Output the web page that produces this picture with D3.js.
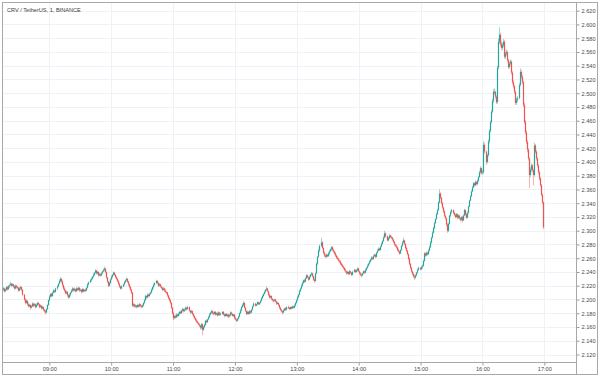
<!DOCTYPE html>
<html><head><meta charset="utf-8">
<script src="https://cdn.jsdelivr.net/npm/d3@7/dist/d3.min.js"></script>
<style>html,body{margin:0;padding:0;background:#fff;}svg{display:block;}</style>
</head><body>
<svg id="chart" width="600" height="377"></svg>
<script>
const title = "CRV / TetherUS, 1, BINANCE";
const day = "2021-02-10";
const startTime = "08:15";
// 1-minute candles; each candle opens at the previous close
const firstOpen = 2.214;
const close = [
2.216,2.212,2.214,2.218,2.215,2.219,2.221,2.223,2.220,2.222,
2.219,2.216,2.220,2.218,2.217,2.213,2.216,2.218,2.214,2.207,
2.200,2.195,2.198,2.193,2.190,2.192,2.188,2.190,2.194,2.191,
2.193,2.189,2.192,2.195,2.193,2.189,2.191,2.187,2.189,2.185,
2.183,2.181,2.186,2.192,2.199,2.204,2.208,2.205,2.210,2.213,
2.211,2.216,2.219,2.223,2.227,2.230,2.226,2.221,2.216,2.213,
2.209,2.211,2.206,2.203,2.207,2.210,2.213,2.216,2.213,2.215,
2.212,2.216,2.214,2.217,2.213,2.214,2.211,2.215,2.212,2.214,
2.213,2.217,2.222,2.225,2.228,2.230,2.233,2.236,2.239,2.242,
2.238,2.240,2.235,2.237,2.235,2.238,2.241,2.243,2.245,2.240,
2.232,2.226,2.220,2.224,2.229,2.233,2.236,2.239,2.236,2.233,
2.230,2.227,2.223,2.219,2.216,2.219,2.222,2.225,2.228,2.230,
2.226,2.222,2.218,2.214,2.210,2.191,2.193,2.190,2.191,2.189,
2.192,2.190,2.193,2.191,2.189,2.191,2.195,2.199,2.205,2.203,
2.207,2.205,2.208,2.210,2.214,2.218,2.221,2.224,2.227,2.224,
2.220,2.222,2.219,2.217,2.214,2.216,2.213,2.211,2.210,2.206,
2.202,2.199,2.195,2.188,2.180,2.173,2.176,2.174,2.178,2.176,
2.179,2.182,2.180,2.184,2.186,2.183,2.185,2.188,2.186,2.189,
2.184,2.181,2.183,2.179,2.176,2.173,2.170,2.168,2.166,2.164,
2.162,2.159,2.164,2.156,2.160,2.163,2.169,2.167,2.171,2.174,
2.178,2.181,2.183,2.180,2.179,2.182,2.178,2.180,2.177,2.181,
2.178,2.179,2.182,2.178,2.176,2.179,2.176,2.178,2.175,2.177,
2.181,2.179,2.176,2.178,2.173,2.171,2.169,2.172,2.175,2.180,
2.184,2.189,2.192,2.195,2.188,2.183,2.179,2.182,2.179,2.183,
2.181,2.185,2.190,2.194,2.191,2.193,2.196,2.193,2.195,2.198,
2.202,2.205,2.208,2.211,2.214,2.216,2.212,2.207,2.203,2.205,
2.201,2.199,2.198,2.200,2.197,2.194,2.195,2.192,2.188,2.185,
2.183,2.181,2.184,2.187,2.185,2.189,2.188,2.186,2.189,2.187,
2.190,2.188,2.191,2.195,2.199,2.203,2.207,2.212,2.216,2.220,
2.224,2.228,2.226,2.231,2.235,2.232,2.229,2.233,2.236,2.238,
2.234,2.229,2.227,2.238,2.252,2.262,2.271,2.278,2.283,2.275,
2.268,2.264,2.262,2.265,2.263,2.267,2.270,2.273,2.276,2.272,
2.270,2.267,2.264,2.261,2.259,2.257,2.255,2.252,2.250,2.248,
2.246,2.243,2.241,2.238,2.240,2.237,2.241,2.239,2.236,2.240,
2.243,2.240,2.242,2.245,2.241,2.238,2.236,2.235,2.238,2.241,
2.239,2.243,2.246,2.249,2.252,2.255,2.258,2.261,2.259,2.263,
2.265,2.262,2.268,2.271,2.274,2.272,2.277,2.281,2.285,2.290,
2.296,2.292,2.286,2.289,2.293,2.291,2.290,2.287,2.284,2.280,
2.278,2.276,2.272,2.270,2.267,2.272,2.278,2.283,2.286,2.281,
2.275,2.271,2.266,2.259,2.252,2.246,2.241,2.237,2.234,2.232,
2.235,2.239,2.243,2.246,2.244,2.247,2.249,2.256,2.267,2.264,
2.268,2.266,2.271,2.276,2.283,2.290,2.297,2.304,2.311,2.317,
2.324,2.330,2.341,2.354,2.348,2.340,2.334,2.328,2.322,2.318,
2.309,2.300,2.310,2.322,2.327,2.330,2.326,2.323,2.320,2.324,
2.319,2.322,2.318,2.316,2.320,2.315,2.322,2.330,2.324,2.319,
2.326,2.335,2.344,2.350,2.357,2.363,2.369,2.366,2.371,2.368,
2.373,2.378,2.385,2.391,2.384,2.385,2.425,2.415,2.400,2.410,
2.430,2.445,2.458,2.473,2.489,2.502,2.502,2.495,2.487,2.537,
2.575,2.585,2.572,2.566,2.570,2.575,2.553,2.558,2.560,2.548,
2.538,2.543,2.546,2.530,2.516,2.510,2.502,2.486,2.490,2.493,
2.512,2.531,2.524,2.516,2.483,2.458,2.443,2.429,2.418,2.405,
2.381,2.389,2.395,2.388,2.381,2.424,2.415,2.405,2.395,2.385,
2.376,2.366,2.352,2.341,2.305];
const high = [
2.218,2.217,2.216,2.219,2.220,2.221,2.222,2.226,2.224,2.224,
2.223,2.221,2.222,2.221,2.220,2.218,2.218,2.220,2.219,2.215,
2.208,2.202,2.200,2.199,2.195,2.194,2.193,2.192,2.196,2.195,
2.195,2.194,2.194,2.197,2.196,2.194,2.193,2.192,2.191,2.190,
2.186,2.185,2.187,2.193,2.200,2.206,2.209,2.210,2.211,2.215,
2.214,2.217,2.221,2.224,2.229,2.233,2.231,2.228,2.222,2.218,
2.214,2.213,2.212,2.208,2.209,2.211,2.215,2.218,2.217,2.217,
2.216,2.218,2.217,2.219,2.218,2.216,2.215,2.217,2.216,2.215,
2.216,2.218,2.224,2.226,2.230,2.232,2.234,2.238,2.240,2.244,
2.243,2.242,2.241,2.239,2.238,2.240,2.242,2.245,2.248,2.246,
2.241,2.233,2.227,2.226,2.230,2.235,2.237,2.241,2.240,2.237,
2.234,2.231,2.228,2.224,2.220,2.221,2.223,2.227,2.229,2.232,
2.231,2.227,2.223,2.219,2.215,2.211,2.195,2.194,2.193,2.192,
2.194,2.193,2.195,2.194,2.192,2.193,2.196,2.201,2.207,2.206,
2.209,2.208,2.210,2.211,2.216,2.219,2.223,2.225,2.229,2.228,
2.225,2.224,2.223,2.220,2.218,2.218,2.217,2.215,2.212,2.211,
2.207,2.204,2.200,2.196,2.189,2.182,2.177,2.178,2.180,2.179,
2.181,2.183,2.184,2.185,2.188,2.187,2.187,2.190,2.189,2.191,
2.190,2.185,2.185,2.184,2.180,2.177,2.174,2.172,2.169,2.167,
2.165,2.163,2.166,2.165,2.162,2.165,2.170,2.171,2.172,2.176,
2.180,2.182,2.185,2.184,2.182,2.183,2.183,2.181,2.182,2.183,
2.182,2.181,2.183,2.183,2.180,2.180,2.180,2.179,2.179,2.179,
2.183,2.182,2.180,2.179,2.179,2.175,2.172,2.173,2.176,2.181,
2.186,2.190,2.194,2.198,2.196,2.189,2.184,2.184,2.183,2.185,
2.184,2.186,2.191,2.196,2.195,2.194,2.197,2.197,2.196,2.199,
2.203,2.207,2.209,2.213,2.215,2.219,2.217,2.213,2.209,2.206,
2.206,2.202,2.200,2.201,2.201,2.198,2.197,2.196,2.193,2.189,
2.186,2.184,2.186,2.188,2.189,2.190,2.191,2.189,2.190,2.190,
2.191,2.191,2.193,2.196,2.200,2.205,2.208,2.214,2.217,2.222,
2.226,2.229,2.230,2.232,2.237,2.236,2.233,2.235,2.237,2.240,
2.239,2.235,2.231,2.239,2.254,2.263,2.273,2.280,2.290,2.285,
2.276,2.270,2.266,2.267,2.266,2.269,2.272,2.274,2.278,2.277,
2.274,2.271,2.269,2.265,2.263,2.261,2.258,2.257,2.254,2.252,
2.249,2.247,2.245,2.242,2.242,2.241,2.243,2.242,2.240,2.242,
2.245,2.244,2.244,2.247,2.246,2.242,2.240,2.238,2.239,2.242,
2.242,2.245,2.247,2.251,2.253,2.257,2.259,2.263,2.262,2.265,
2.267,2.266,2.269,2.273,2.276,2.275,2.278,2.283,2.286,2.292,
2.300,2.298,2.293,2.291,2.295,2.294,2.293,2.291,2.288,2.285,
2.281,2.280,2.277,2.274,2.271,2.273,2.279,2.285,2.290,2.287,
2.282,2.277,2.272,2.267,2.261,2.253,2.248,2.242,2.239,2.236,
2.237,2.240,2.245,2.248,2.247,2.249,2.251,2.258,2.269,2.268,
2.270,2.269,2.273,2.278,2.285,2.291,2.299,2.306,2.313,2.318,
2.326,2.332,2.343,2.360,2.356,2.349,2.342,2.335,2.330,2.323,
2.319,2.311,2.312,2.323,2.329,2.332,2.331,2.328,2.325,2.326,
2.325,2.324,2.323,2.320,2.321,2.322,2.324,2.332,2.331,2.326,
2.328,2.337,2.345,2.352,2.359,2.365,2.371,2.370,2.373,2.372,
2.375,2.380,2.387,2.394,2.392,2.388,2.430,2.428,2.417,2.412,
2.433,2.448,2.460,2.476,2.492,2.506,2.507,2.504,2.497,2.540,
2.580,2.596,2.588,2.576,2.573,2.579,2.577,2.561,2.564,2.562,
2.550,2.546,2.549,2.548,2.532,2.519,2.512,2.504,2.494,2.496,
2.515,2.536,2.534,2.526,2.518,2.486,2.461,2.446,2.432,2.420,
2.407,2.392,2.398,2.397,2.390,2.428,2.426,2.417,2.407,2.397,
2.387,2.378,2.368,2.354,2.343];
const low = [
2.212,2.210,2.211,2.213,2.213,2.214,2.217,2.220,2.218,2.219,
2.217,2.214,2.215,2.216,2.215,2.211,2.212,2.214,2.212,2.205,
2.198,2.193,2.194,2.191,2.188,2.189,2.185,2.187,2.189,2.189,
2.190,2.187,2.188,2.191,2.191,2.187,2.188,2.185,2.186,2.183,
2.181,2.178,2.180,2.185,2.191,2.197,2.203,2.203,2.204,2.209,
2.209,2.210,2.214,2.218,2.222,2.225,2.224,2.219,2.214,2.211,
2.207,2.208,2.204,2.201,2.202,2.205,2.209,2.211,2.211,2.212,
2.210,2.211,2.212,2.213,2.211,2.212,2.209,2.210,2.210,2.211,
2.211,2.212,2.216,2.220,2.224,2.226,2.229,2.232,2.234,2.238,
2.236,2.237,2.233,2.234,2.233,2.234,2.237,2.240,2.241,2.238,
2.230,2.224,2.218,2.219,2.223,2.228,2.231,2.235,2.234,2.231,
2.228,2.225,2.221,2.217,2.214,2.215,2.218,2.220,2.224,2.226,
2.224,2.220,2.216,2.212,2.208,2.189,2.189,2.188,2.188,2.187,
2.188,2.188,2.189,2.189,2.187,2.188,2.190,2.194,2.198,2.201,
2.202,2.203,2.204,2.207,2.209,2.213,2.216,2.220,2.222,2.222,
2.218,2.219,2.217,2.215,2.212,2.213,2.211,2.209,2.208,2.204,
2.200,2.197,2.193,2.186,2.178,2.170,2.171,2.172,2.173,2.174,
2.175,2.177,2.179,2.179,2.182,2.181,2.182,2.184,2.184,2.185,
2.182,2.179,2.180,2.177,2.174,2.171,2.168,2.166,2.164,2.162,
2.160,2.156,2.157,2.148,2.154,2.158,2.162,2.165,2.166,2.170,
2.173,2.177,2.179,2.178,2.177,2.178,2.176,2.177,2.175,2.176,
2.176,2.177,2.178,2.177,2.174,2.175,2.175,2.174,2.173,2.174,
2.176,2.177,2.175,2.175,2.171,2.170,2.167,2.168,2.171,2.174,
2.179,2.183,2.188,2.190,2.187,2.182,2.177,2.178,2.178,2.178,
2.179,2.180,2.184,2.189,2.190,2.190,2.192,2.192,2.192,2.194,
2.197,2.201,2.204,2.207,2.210,2.213,2.211,2.205,2.201,2.202,
2.199,2.197,2.196,2.197,2.196,2.192,2.193,2.190,2.186,2.183,
2.181,2.178,2.180,2.183,2.183,2.184,2.186,2.185,2.185,2.186,
2.186,2.187,2.187,2.190,2.194,2.198,2.202,2.206,2.211,2.215,
2.219,2.223,2.224,2.225,2.230,2.231,2.227,2.228,2.232,2.235,
2.232,2.227,2.224,2.226,2.237,2.250,2.261,2.269,2.276,2.273,
2.266,2.262,2.260,2.261,2.261,2.262,2.265,2.269,2.271,2.270,
2.268,2.265,2.262,2.259,2.257,2.255,2.253,2.250,2.248,2.246,
2.244,2.241,2.239,2.236,2.237,2.235,2.236,2.237,2.234,2.235,
2.239,2.238,2.239,2.241,2.240,2.236,2.234,2.232,2.234,2.237,
2.237,2.238,2.242,2.245,2.248,2.251,2.254,2.257,2.257,2.258,
2.262,2.260,2.261,2.267,2.270,2.270,2.271,2.276,2.280,2.284,
2.289,2.290,2.284,2.285,2.288,2.289,2.288,2.285,2.282,2.278,
2.276,2.274,2.270,2.268,2.265,2.266,2.271,2.277,2.282,2.279,
2.273,2.269,2.264,2.257,2.250,2.244,2.239,2.235,2.231,2.228,
2.230,2.234,2.238,2.242,2.242,2.243,2.245,2.248,2.255,2.262,
2.263,2.264,2.265,2.270,2.275,2.281,2.289,2.296,2.302,2.310,
2.316,2.323,2.329,2.340,2.346,2.338,2.332,2.326,2.320,2.316,
2.307,2.297,2.298,2.309,2.320,2.325,2.324,2.321,2.318,2.319,
2.317,2.317,2.316,2.313,2.314,2.312,2.314,2.321,2.322,2.317,
2.318,2.325,2.334,2.343,2.349,2.356,2.362,2.364,2.365,2.366,
2.366,2.371,2.377,2.383,2.381,2.382,2.383,2.412,2.396,2.398,
2.408,2.427,2.443,2.456,2.471,2.486,2.498,2.492,2.484,2.485,
2.535,2.571,2.568,2.562,2.563,2.567,2.550,2.550,2.555,2.545,
2.535,2.536,2.540,2.527,2.513,2.507,2.499,2.483,2.483,2.487,
2.491,2.510,2.521,2.513,2.480,2.455,2.440,2.426,2.414,2.402,
2.362,2.378,2.386,2.385,2.366,2.379,2.412,2.402,2.392,2.382,
2.373,2.364,2.350,2.338,2.302];
const xTickLabels = ["09:00","10:00","11:00","12:00","13:00","14:00","15:00","16:00","17:00"];
const yTickLabels = ["2.120","2.140","2.160","2.180","2.200","2.220","2.240","2.260","2.280","2.300","2.320","2.340","2.360","2.380","2.400","2.420","2.440","2.460","2.480","2.500","2.520","2.540","2.560","2.580","2.600","2.620"];

const parse = d3.timeParse("%Y-%m-%d %H:%M");
const t0 = parse(day + " " + startTime);
const candles = close.map((c, i) => ({
  t: d3.timeMinute.offset(t0, i),
  o: i === 0 ? firstOpen : close[i - 1],
  h: high[i], l: low[i], c: c
}));
const xTicks = xTickLabels.map(s => parse(day + " " + s));
const yTicks = yTickLabels.map(Number);

const W = 600, H = 377;
const plotL = 3, plotR = 576.5, plotT = 3, plotB = 362.5;
const x = d3.scaleTime().domain([xTicks[0], xTicks[xTicks.length - 1]]).range([49.3, 544.3]);
const y = d3.scaleLinear().domain([yTicks[0], yTicks[yTicks.length - 1]]).range([354.5, 10.7]);

const UP = "#26a69a", DOWN = "#ef5350";
const FONT = "'Liberation Sans', Arial, sans-serif";
const svg = d3.select("#chart");
svg.append("rect").attr("width", W).attr("height", H).attr("fill", "#fff");

// grid
const grid = svg.append("g");
grid.selectAll("line.h").data(yTicks).join("line")
  .attr("x1", plotL).attr("x2", plotR)
  .attr("y1", d => Math.round(y(d)) + 0.5).attr("y2", d => Math.round(y(d)) + 0.5)
  .attr("stroke", "#eef1f6").attr("stroke-width", 1);
grid.selectAll("line.v").data(xTicks).join("line")
  .attr("y1", plotT).attr("y2", plotB)
  .attr("x1", d => Math.round(x(d)) + 0.5).attr("x2", d => Math.round(x(d)) + 0.5)
  .attr("stroke", "#eef1f6").attr("stroke-width", 1);

// candles
const g = svg.append("g");
const cx = d => Math.round(x(d.t)) + 0.5;
g.selectAll("line.wick").data(candles).join("line")
  .attr("x1", cx).attr("x2", cx)
  .attr("y1", d => y(d.h)).attr("y2", d => y(d.l))
  .attr("stroke", d => d.c >= d.o ? UP : DOWN).attr("stroke-opacity", 0.45).attr("stroke-width", 1);
g.selectAll("rect.body").data(candles).join("rect")
  .attr("x", d => cx(d) - 0.6).attr("width", 1.2)
  .attr("y", d => y(Math.max(d.o, d.c)))
  .attr("height", d => Math.max(1, Math.abs(y(d.o) - y(d.c))))
  .attr("fill", d => d.c >= d.o ? UP : DOWN);

// axes
const yAxis = svg.append("g").attr("transform", `translate(${plotR},0)`)
  .call(d3.axisRight(y).tickValues(yTicks).tickFormat((d, i) => yTickLabels[i]).tickSize(3).tickPadding(2));
const xAxis = svg.append("g").attr("transform", `translate(0,${plotB})`)
  .call(d3.axisBottom(x).tickValues(xTicks).tickFormat((d, i) => xTickLabels[i]).tickSize(3).tickPadding(2));
[yAxis, xAxis].forEach(a => {
  a.select(".domain").remove();
  a.selectAll(".tick line").attr("stroke", "#9a9a9a");
  a.selectAll(".tick text").attr("fill", "#4a4a4a").style("font-family", FONT).style("font-size", "5.6px");
});

// frame and axis separators
svg.append("line").attr("x1", plotR).attr("x2", plotR).attr("y1", plotT).attr("y2", H - 2.5)
  .attr("stroke", "#a8a8a8");
svg.append("line").attr("x1", plotL).attr("x2", plotR).attr("y1", plotB).attr("y2", plotB)
  .attr("stroke", "#a8a8a8");
svg.append("rect").attr("x", 2.5).attr("y", 2.5).attr("width", W - 5).attr("height", H - 5)
  .attr("fill", "none").attr("stroke", "#a8a8a8");

svg.append("text").attr("x", 7).attr("y", 11.5).text(title)
  .attr("fill", "#3c3c3c").style("font-family", FONT).style("font-size", "5.6px");
</script>
</body></html>
